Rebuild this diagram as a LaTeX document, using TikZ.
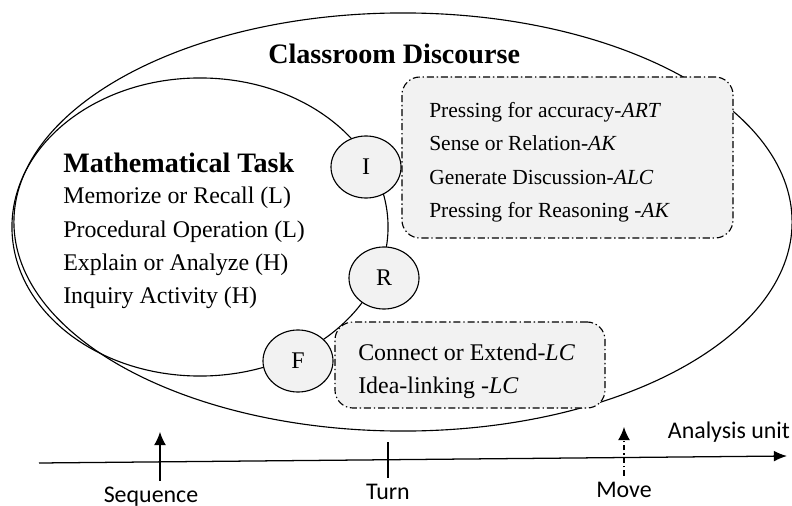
\documentclass[tikz,border=0pt]{standalone}
\usepackage{fontspec}
\setmainfont{Liberation Serif}
\newfontfamily\unitfont{Carlito}
\usetikzlibrary{arrows.meta,shapes.geometric}

\tikzset{
    irfnode/.style={ellipse,draw,fill=gray!10,line width=0.8pt,minimum width=1.75cm,minimum height=1.55cm,inner sep=0pt,font=\fontsize{17}{20}\selectfont},
    movebox/.style={draw,fill=gray!10,rounded corners=0.45cm,line width=0.8pt,dash pattern=on 5pt off 2pt on 1pt off 2pt},
    bodytext/.style={anchor=base west,inner sep=0pt,font=\fontsize{17}{20}\selectfont},
    boxtext/.style={bodytext,font=\fontsize{15.3}{18}\selectfont},
    headtext/.style={anchor=base west,inner sep=0pt,font=\fontsize{20}{22}\selectfont\bfseries},
    unittext/.style={anchor=base,inner sep=4pt,font=\unitfont\fontsize{17}{20}\selectfont},
    uparrow/.style={line width=0.8pt,-{Latex[length=0.33cm,width=0.3cm]}}
}

\begin{document}
\begin{tikzpicture}[x=0.025cm,y=-0.025cm]
    \useasboundingbox (0,0) rectangle (792,506);

    % discourse and task
    \draw[line width=0.8pt] (403,222) ellipse [x radius=9.725cm,y radius=5.225cm];
    \draw[line width=0.8pt] (200,227) ellipse [x radius=4.7cm,y radius=3.725cm];

    \node[movebox,minimum width=8.275cm,minimum height=4.025cm] (initbox) at (567.5,157.5) {};
    \node[movebox,minimum width=6.75cm,minimum height=2.15cm] (feedbox) at (470,365) {};

    \node[irfnode] (I) at (366,167) {I};
    \node[irfnode] (R) at (384,278) {R};
    \node[irfnode] (F) at (298,361) {F};

    \node[headtext] (discourse) at (268,63) {Classroom Discourse};
    \node[headtext] (task) at (63,172) {Mathematical Task};
    \node[bodytext] (memorize) at (63,203) {Memorize or Recall (L)};
    \node[bodytext] (procedural) at (63,237) {Procedural Operation (L)};
    \node[bodytext] (explain) at (63,270) {Explain or Analyze (H)};
    \node[bodytext] (inquiry) at (63,303) {Inquiry Activity (H)};

    \node[boxtext] (accuracy) at (429,117) {Pressing for accuracy-\textit{ART}};
    \node[boxtext] (sense) at (429,150) {Sense or Relation-\textit{AK}};
    \node[boxtext] (generate) at (429,184) {Generate Discussion-\textit{ALC}};
    \node[boxtext] (reasoning) at (429,217) {Pressing for Reasoning -\textit{AK}};

    \node[bodytext] (connect) at (358,360) {Connect or Extend-\textit{LC}};
    \node[bodytext] (idea) at (358,393) {Idea-linking -\textit{LC}};

    % analysis unit axis
    \coordinate (axstart) at (39,463);
    \coordinate (axend) at (787,456);
    \draw[line width=0.9pt,-{Latex[length=0.33cm,width=0.27cm]}] (axstart) -- (axend);
    \node[unittext,anchor=base west] (unit) at (662,438) {Analysis unit};

    \node[unittext] (sequence) at (151,502) {Sequence};
    \node[unittext] (turn) at (388,499) {Turn};
    \node[unittext] (move) at (624,497) {Move};

    \coordinate (seqtip) at (160,432);
    \coordinate (turntop) at (388,442);
    \coordinate (movetip) at (624,427);
    \draw[uparrow] (seqtip |- sequence.north) -- (seqtip);
    \draw[line width=0.8pt] (turntop |- turn.north) -- (turntop);
    \draw[uparrow,dash pattern=on 4pt off 2pt on 1pt off 2pt] (movetip |- move.north) -- (movetip);
\end{tikzpicture}
\end{document}
